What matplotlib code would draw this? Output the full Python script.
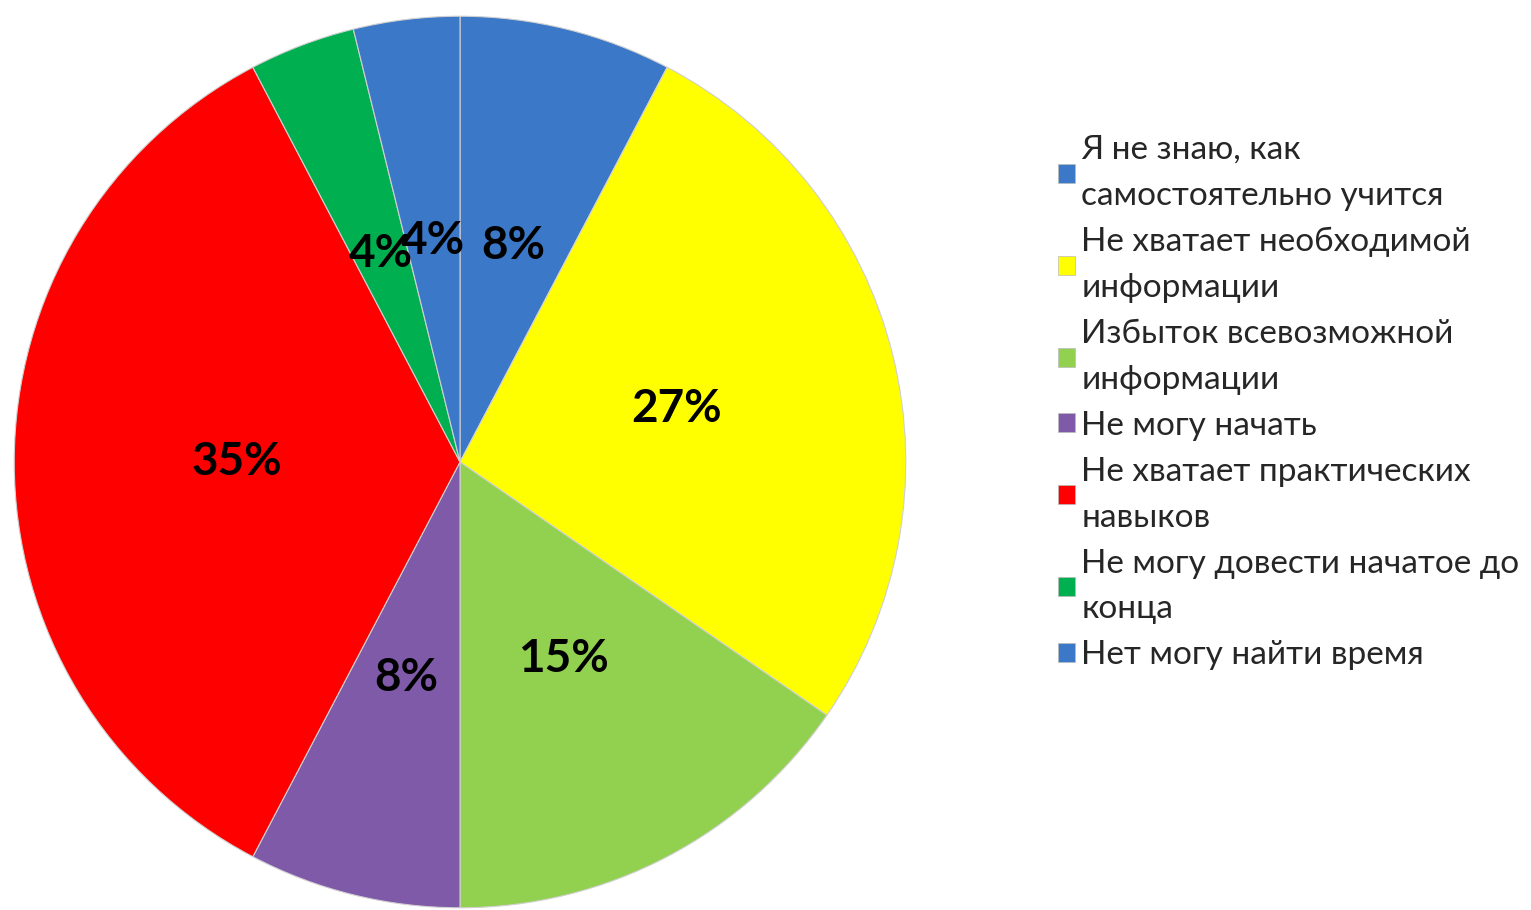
import matplotlib.pyplot as plt
from matplotlib.patches import Patch

# Survey answers (counts, 26 people)
labels = [
    "Я не знаю, как\nсамостоятельно учится",
    "Не хватает необходимой\nинформации",
    "Избыток всевозможной\nинформации",
    "Не могу начать",
    "Не хватает практических\nнавыков",
    "Не могу довести начатое до\nконца",
    "Нет могу найти время",
]
counts = [2, 7, 4, 2, 9, 1, 1]
colors = ["#3b78c8", "#ffff00", "#92d050", "#7f5aa8", "#ff0000", "#00b050", "#3b78c8"]

plt.rcParams['font.family'] = ['Lato', 'DejaVu Sans']

fig = plt.figure(figsize=(15.31, 9.10), dpi=100)
ax = fig.add_axes([12 / 1531, 0.0, 896 / 1531, 896 / 910])

wedges, texts, autotexts = ax.pie(
    counts,
    colors=colors,
    startangle=90,
    counterclock=False,
    autopct="%1.0f%%",
    pctdistance=0.5,
    wedgeprops=dict(edgecolor="#d0d0d0", linewidth=0.8),
    textprops=dict(fontsize=33, fontweight="bold", color="black"),
)
ax.set_xlim(-1.005, 1.005)
ax.set_ylim(-1.005, 1.005)
ax.set_aspect("equal")

handles = [Patch(facecolor=c, edgecolor="#bbbbbb", linewidth=0.5) for c in colors]
leg = fig.legend(
    handles, labels,
    loc="upper left",
    bbox_to_anchor=(1058 / 1531, 1 - 135 / 910),
    frameon=False,
    fontsize=24,
    handlelength=0.5,
    handleheight=0.5,
    handletextpad=0.2,
    labelspacing=0.48,
    borderpad=0,
    borderaxespad=0,
)
for t in leg.get_texts():
    t.set_color("#262626")
    t.set_linespacing(1.66)

fig.savefig("out.png", dpi=100)
